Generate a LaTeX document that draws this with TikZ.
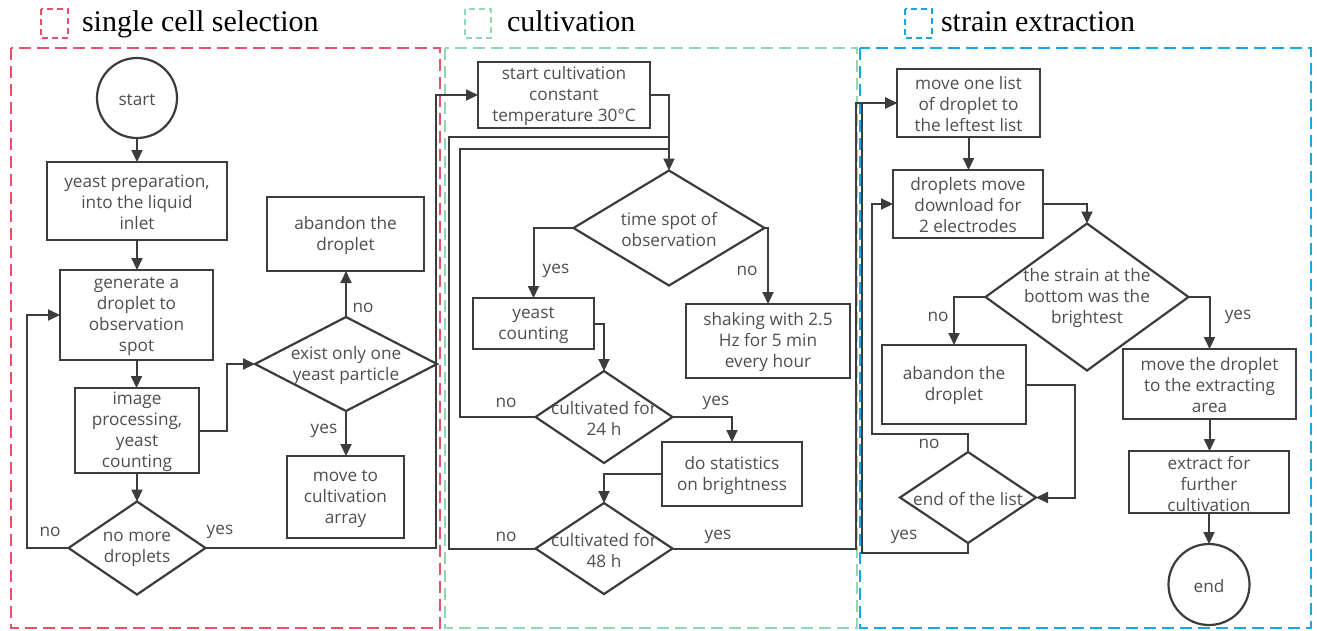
\documentclass[tikz,border=0pt]{standalone}
\usepackage{fontspec}
\setmainfont{Open Sans}
\newfontfamily\titlefont{Liberation Serif}
\usetikzlibrary{arrows.meta,shapes.geometric}
\definecolor{ln}{HTML}{3C3C3C}
\definecolor{tx}{HTML}{4E4E4E}
\definecolor{cred}{HTML}{EB5068}
\definecolor{cgreen}{HTML}{8ED8B4}
\definecolor{cblue}{HTML}{1AA5E6}
\begin{document}
\begin{tikzpicture}[x=1pt,y=-1pt,
  every node/.style={inner sep=0pt, outer sep=0pt, text=tx, font=\fontsize{17.2}{21}\selectfont},
  box/.style={draw=ln, line width=2.2pt, rectangle},
  dia/.style={draw=ln, line width=2.2pt, diamond},
  circ/.style={draw=ln, line width=2.2pt, circle},
  txt/.style={align=center, yshift=-1.5pt},
  conn/.style={draw=ln, line width=2pt},
  arr/.style={conn, -{Triangle[length=12pt,width=11pt]}},
  sect/.style={line width=2.6pt, dash pattern=on 12pt off 6pt},
  legend/.style={line width=2.2pt, dash pattern=on 6pt off 4pt},
  title/.style={font=\titlefont\fontsize{30}{36}\selectfont, text=black, anchor=base west},
]
\useasboundingbox (0,0) rectangle (1317,630);

% sections
\draw[sect, draw=cred] (11,48) rectangle (440,628);
\draw[sect, draw=cgreen] (445,48) rectangle (857,628);
\draw[sect, draw=cblue] (860,48) rectangle (1311,628);

% legend
\draw[legend, draw=cred] (41,9) rectangle (68,38);
\draw[legend, draw=cgreen] (465,9) rectangle (491,38);
\draw[legend, draw=cblue] (905,9) rectangle (932,38);
\node[title] (t1) at (82,31) {single cell selection};
\node[title] (t2) at (507,31) {cultivation};
\node[title] (t3) at (941,31) {strain extraction};

% section 1
\node[circ, minimum size=80pt, label={[txt]center:start}] (start) at (137,98) {};
\node[box, minimum width=180pt, minimum height=78pt, label={[txt]center:{yeast preparation,\\into the liquid\\inlet}}] (prep) at (137,201) {};
\node[box, minimum width=153pt, minimum height=90pt, label={[txt]center:{generate a\\droplet to\\observation\\spot}}] (gen) at (136.5,315) {};
\node[box, minimum width=124pt, minimum height=85pt, label={[txt]center:{image\\processing,\\yeast\\counting}}] (img) at (137,430.5) {};
\node[dia, minimum width=137pt, minimum height=93pt, label={[txt]center:{no more\\droplets}}] (nomore) at (137,548) {};
\node[box, minimum width=157pt, minimum height=74pt, label={[txt]center:{abandon the\\droplet}}] (aband1) at (345.5,234) {};
\node[dia, minimum width=182pt, minimum height=94pt, label={[txt]center:{exist only one\\yeast particle}}] (exist) at (346,364) {};
\node[box, minimum width=117pt, minimum height=82pt, label={[txt]center:{move to\\cultivation\\array}}] (moveto) at (345.5,497) {};

% section 2
\node[box, minimum width=172pt, minimum height=66pt, label={[txt]center:{start cultivation\\constant\\temperature 30°C}}] (cult) at (564,95) {};
\node[dia, minimum width=191pt, minimum height=115pt, label={[txt]center:{time spot of\\observation}}] (tspot) at (669,228) {};
\node[box, minimum width=121pt, minimum height=51pt, label={[txt]center:{yeast\\counting}}] (ycount) at (533.5,323.5) {};
\node[box, minimum width=164pt, minimum height=74pt, label={[txt]center:{shaking with 2.5\\Hz for 5 min\\every hour}}] (shake) at (768,341) {};
\node[dia, minimum width=137pt, minimum height=92pt, label={[txt]center:{cultivated for\\24 h}}] (c24) at (604,417) {};
\node[box, minimum width=140pt, minimum height=64pt, label={[txt]center:{do statistics\\on brightness}}] (stats) at (732,474) {};
\node[dia, minimum width=137pt, minimum height=91pt, label={[txt]center:{cultivated for\\48 h}}] (c48) at (604,548.5) {};

% section 3
\node[box, minimum width=143pt, minimum height=68pt, label={[txt]center:{move one list\\of droplet to\\the leftest list}}] (moveone) at (968.5,103) {};
\node[box, minimum width=150pt, minimum height=68pt, label={[txt]center:{droplets move\\download for\\2 electrodes}}] (dmove) at (968,204) {};
\node[dia, minimum width=203pt, minimum height=147pt, label={[txt]center:{the strain at the\\bottom was the\\brightest}}] (strain) at (1087,297) {};
\node[box, minimum width=144pt, minimum height=79pt, label={[txt]center:{abandon the\\droplet}}] (aband2) at (954,384.5) {};
\node[box, minimum width=173pt, minimum height=70pt, label={[txt]center:{move the droplet\\to the extracting\\area}}] (mvdrop) at (1209.5,384) {};
\node[box, minimum width=160pt, minimum height=62pt, label={[txt]center:{extract for\\further\\cultivation}}] (extract) at (1209,482) {};
\node[dia, minimum width=136pt, minimum height=91pt, label={[txt]center:{end of the list}}] (endlist) at (968,497.5) {};
\node[circ, minimum size=81pt, label={[txt]center:end}] (fin) at (1209,584.5) {};

% labels
\node (l1) at (363,308) {no};
\node (l2) at (324,431) {yes};
\node (l3) at (50,532) {no};
\node (l4) at (220,532) {yes};
\node (l5) at (556,271) {yes};
\node (l6) at (747,271) {no};
\node (l7) at (506,403) {no};
\node (l8) at (716,403) {yes};
\node (l9) at (506,537) {no};
\node (l10) at (718,537) {yes};
\node (l11) at (938,317) {no};
\node (l12) at (1238,317) {yes};
\node (l13) at (929,444) {no};
\node (l14) at (904,537) {yes};

% connectors section 1
\draw[arr] (start) -- (prep);
\draw[arr] (prep.south) -- (prep.south |- gen.north);
\draw[arr] (gen.south) -- (gen.south |- img.north);
\draw[arr] (img.south) -- (img.south |- nomore.north);
\draw[arr] (img.east) -- ++(28,0) |- (exist.west);
\draw[arr] (exist.north) -- (exist.north |- aband1.south);
\draw[arr] (exist.south) -- (exist.south |- moveto.north);
\draw[arr] (nomore.west) -- ++(-42,0) |- (gen.west);
\draw[arr] (nomore.east) -| ([xshift=-42pt]cult.west) -- (cult.west);

% connectors section 2
\draw[arr] (cult.east) -| (tspot.north);
\draw[arr] (tspot.west) -| (ycount.north);
\draw[arr] (tspot.east) -| (shake.north);
\draw[arr] (ycount.east) -| (c24.north);
\draw[conn] (c24.west) -- ++(-76,0) |- ([yshift=22pt]tspot.north);
\draw[conn] (c48.west) -- ++(-87,0) |- ([yshift=34pt]tspot.north);
\draw[arr] (c24.east) -| (stats.north);
\draw[arr] (stats.west) -| (c48.north);
\draw[arr] (c48.east) -| ([xshift=-41pt]moveone.west) -- (moveone.west);

% connectors section 3
\draw[arr] (moveone.south) -- (moveone.south |- dmove.north);
\draw[arr] (dmove.east) -| (strain.north);
\draw[arr] (strain.west) -| (aband2.north);
\draw[arr] (strain.east) -| (mvdrop.north);
\draw[arr] (mvdrop.south) -- (mvdrop.south |- extract.north);
\draw[arr] (extract.south) -- (extract.south |- fin.north);
\draw[arr] (aband2.east) -- ++(49,0) |- (endlist.east);
\draw[arr] (endlist.north) -- ++(0,-18) -| ([xshift=-21pt]dmove.west) -- (dmove.west);
\draw[arr] (endlist.south) -- ++(0,10) -| ([xshift=-35pt]moveone.west) -- (moveone.west);
\end{tikzpicture}
\end{document}
